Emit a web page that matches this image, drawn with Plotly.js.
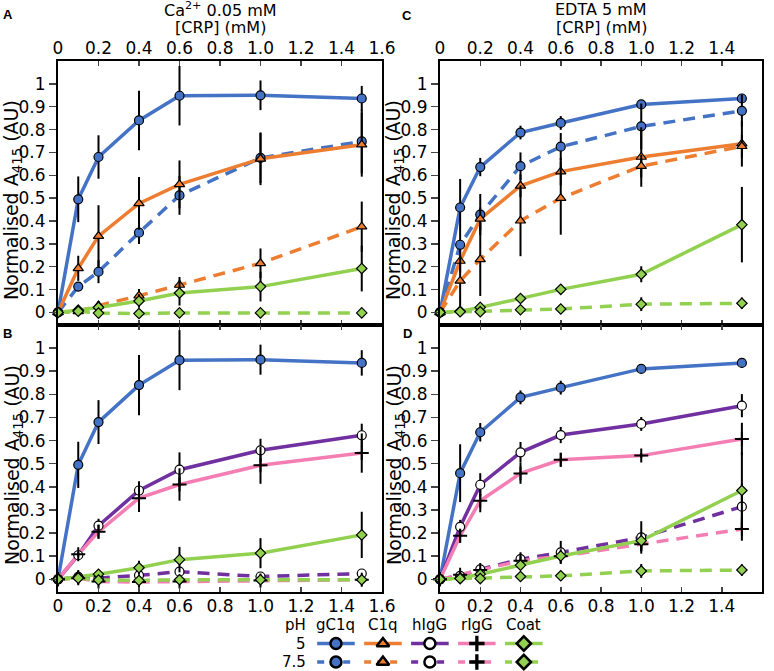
<!DOCTYPE html>
<html>
<head>
<meta charset="utf-8">
<script src="https://cdn.plot.ly/plotly-3.0.1.min.js"></script>
<style>
  body { margin: 0; background: #fff; }
  #chart { width: 774px; height: 671px; }
</style>
</head>
<body>
<div id="chart"></div>
<script>
// CRP concentrations (mM)
var crp = [0, 0.1, 0.2, 0.4, 0.6, 1.0, 1.5];
var xTicks = [0, 0.2, 0.4, 0.6, 0.8, 1.0, 1.2, 1.4, 1.6];
var xTickText = ["0", "0.2", "0.4", "0.6", "0.8", "1.0", "1.2", "1.4", "1.6"];
var yTicks = [0, 0.1, 0.2, 0.3, 0.4, 0.5, 0.6, 0.7, 0.8, 0.9, 1];
var yRightTicks = [0.05, 0.15, 0.25, 0.35, 0.45, 0.55, 0.65, 0.75, 0.85, 0.95, 1.05];

var series = ["gC1q", "C1q", "hIgG", "rIgG", "Coat"];
var phLevels = ["5", "7.5"];

// Ca2+ 0.05 mM (panels A, B)
var ca_gc1q5 = [0, 0.495, 0.68, 0.84, 0.948, 0.95, 0.936];
var ca_gc1q5_err = [0, 0.1, 0.095, 0.13, 0.13, 0.065, 0.055];
var ca_gc1q75 = [0, 0.113, 0.178, 0.349, 0.512, 0.676, 0.748];
var ca_gc1q75_err = [0, 0.02, 0.05, 0.05, 0.085, 0.11, 0.14];
var ca_c1q5 = [0, 0.193, 0.334, 0.477, 0.56, 0.672, 0.734];
var ca_c1q5_err = [0, 0.055, 0.135, 0.115, 0.105, 0.115, 0.14];
var ca_c1q75 = [0, 0.005, 0.03, 0.073, 0.12, 0.215, 0.375];
var ca_c1q75_err = [0, 0.01, 0.02, 0.03, 0.035, 0.065, 0.11];
var ca_higg5 = [0, 0.104, 0.232, 0.384, 0.474, 0.558, 0.623];
var ca_higg5_err = [0, 0.01, 0.03, 0.04, 0.075, 0.05, 0.05];
var ca_higg75 = [0, 0.01, 0.005, 0.017, 0.033, 0.012, 0.025];
var ca_higg75_err = [0, 0.03, 0.01, 0.01, 0.01, 0.01, 0.01];
var ca_rigg5 = [0, 0.108, 0.206, 0.351, 0.41, 0.493, 0.546];
var ca_rigg5_err = [0, 0.01, 0.03, 0.06, 0.07, 0.08, 0.085];
var ca_rigg75 = [0, 0.005, -0.01, -0.012, -0.01, -0.005, -0.002];
var ca_rigg75_err = [0, 0.01, 0.005, 0.005, 0.005, 0.005, 0.005];
var ca_coat5 = [0, 0.01, 0.022, 0.05, 0.085, 0.113, 0.192];
var ca_coat5_err = [0, 0.015, 0.02, 0.03, 0.055, 0.065, 0.1];
var ca_coat75 = [0, 0.005, -0.003, -0.005, -0.002, -0.002, -0.002];
var ca_coat75_err = [0, 0.005, 0.005, 0.005, 0.005, 0.005, 0.005];

// EDTA 5 mM (panels C, D)
var edta_gc1q5 = [0, 0.459, 0.636, 0.787, 0.829, 0.91, 0.936];
var edta_gc1q5_err = [0, 0.125, 0.04, 0.03, 0.03, 0.015, 0.02];
var edta_gc1q75 = [0, 0.296, 0.428, 0.64, 0.725, 0.814, 0.882];
var edta_gc1q75_err = [0, 0.04, 0.09, 0.06, 0.06, 0.1, 0.07];
var edta_c1q5 = [0, 0.225, 0.409, 0.554, 0.616, 0.68, 0.738];
var edta_c1q5_err = [0, 0.05, 0.05, 0.05, 0.06, 0.13, 0.1];
var edta_c1q75 = [0, 0.138, 0.232, 0.401, 0.5, 0.64, 0.727];
var edta_c1q75_err = [0, 0.11, 0.16, 0.155, 0.16, 0.05, 0.05];
var edta_higg5 = [0, 0.227, 0.409, 0.549, 0.624, 0.672, 0.751];
var edta_higg5_err = [0, 0.03, 0.05, 0.045, 0.035, 0.03, 0.05];
var edta_higg75 = [0, 0.015, 0.043, 0.087, 0.116, 0.181, 0.314];
var edta_higg75_err = [0, 0.01, 0.01, 0.03, 0.05, 0.07, 0.1];
var edta_rigg5 = [0, 0.188, 0.34, 0.458, 0.517, 0.535, 0.607];
var edta_rigg5_err = [0, 0.03, 0.05, 0.045, 0.03, 0.01, 0.07];
var edta_rigg75 = [0, 0.02, 0.04, 0.08, 0.1, 0.152, 0.217];
var edta_rigg75_err = [0, 0.01, 0.01, 0.02, 0.02, 0.03, 0.05];
var edta_coat5 = [0, 0.005, 0.022, 0.061, 0.101, 0.167, 0.384];
var edta_coat5_err = [0, 0.01, 0.01, 0.01, 0.02, 0.035, 0.165];
var edta_coat75 = [0, 0.003, 0.003, 0.012, 0.015, 0.036, 0.04];
var edta_coat75_err = [0, 0.005, 0.005, 0.005, 0.005, 0.03, 0.025];

// styles
var colors = ["#4472C4", "#ED7D31", "#7030A0", "#F47EB3", "#92D050"];
var symbols = ["circle", "triangle-up", "circle", "cross-thin", "diamond"];
var fills = ["#4472C4", "#ED7D31", "#ffffff", "#000000", "#92D050"];
var sizes = [9, 9, 9, 10, 8];
var font = "DejaVu Sans, Verdana, sans-serif";

// pixel -> paper helpers
var W = 774, H = 671;
var M = { l: 58, r: 12, t: 61, b: 4 };
function px(x) { return (x - M.l) / (W - M.l - M.r); }
function py(y) { return (H - M.b - y) / (H - M.t - M.b); }

var panels = [
  { xa: "x", ya: "y", curves: [
    [0, 0, ca_gc1q5, ca_gc1q5_err], [0, 1, ca_gc1q75, ca_gc1q75_err],
    [1, 0, ca_c1q5, ca_c1q5_err], [1, 1, ca_c1q75, ca_c1q75_err],
    [4, 0, ca_coat5, ca_coat5_err], [4, 1, ca_coat75, ca_coat75_err]] },
  { xa: "x2", ya: "y2", curves: [
    [0, 0, ca_gc1q5, ca_gc1q5_err],
    [2, 0, ca_higg5, ca_higg5_err], [2, 1, ca_higg75, ca_higg75_err],
    [3, 0, ca_rigg5, ca_rigg5_err], [3, 1, ca_rigg75, ca_rigg75_err],
    [4, 0, ca_coat5, ca_coat5_err], [4, 1, ca_coat75, ca_coat75_err]] },
  { xa: "x3", ya: "y3", curves: [
    [0, 0, edta_gc1q5, edta_gc1q5_err], [0, 1, edta_gc1q75, edta_gc1q75_err],
    [1, 0, edta_c1q5, edta_c1q5_err], [1, 1, edta_c1q75, edta_c1q75_err],
    [4, 0, edta_coat5, edta_coat5_err], [4, 1, edta_coat75, edta_coat75_err]] },
  { xa: "x4", ya: "y4", curves: [
    [0, 0, edta_gc1q5, edta_gc1q5_err],
    [2, 0, edta_higg5, edta_higg5_err], [2, 1, edta_higg75, edta_higg75_err],
    [3, 0, edta_rigg5, edta_rigg5_err], [3, 1, edta_rigg75, edta_rigg75_err],
    [4, 0, edta_coat5, edta_coat5_err], [4, 1, edta_coat75, edta_coat75_err]] }
];

function markerStyle(k, size, lw) {
  return {
    symbol: symbols[k], size: size, color: fills[k],
    line: { color: "black", width: symbols[k] == "cross-thin" ? lw + 0.8 : lw }
  };
}

var lineTraces = [], markTraces = [];
panels.forEach(function (p) {
  p.curves.forEach(function (c) {
    var k = c[0], ph = c[1];
    lineTraces.push({
      type: "scatter", mode: "lines", x: crp, y: c[2], xaxis: p.xa, yaxis: p.ya,
      line: { color: colors[k], width: 3.5, dash: ph == 0 ? "solid" : "12px,8px" },
      showlegend: false, hoverinfo: "skip"
    });
    markTraces.push({
      type: "scatter", mode: "markers", x: crp, y: c[2], xaxis: p.xa, yaxis: p.ya,
      marker: markerStyle(k, sizes[k], 1.2),
      error_y: { type: "data", array: c[3], visible: true, color: "black", thickness: 2, width: 0 },
      cliponaxis: false, showlegend: false, hoverinfo: "skip"
    });
  });
});

// key drawn on its own small axis pair
var keyTraces = [];
series.forEach(function (name, k) {
  phLevels.forEach(function (ph, j) {
    var row = 1 - j;
    keyTraces.push({
      type: "scatter", mode: "lines", x: [k - 0.4, k + 0.4], y: [row, row],
      xaxis: "x5", yaxis: "y9",
      line: { color: colors[k], width: 3.5, dash: j == 0 ? "solid" : "7px,6px" },
      showlegend: false, hoverinfo: "skip"
    });
    keyTraces.push({
      type: "scatter", mode: "markers", x: [k], y: [row], xaxis: "x5", yaxis: "y9",
      marker: markerStyle(k, 11, 2.5), cliponaxis: false, showlegend: false, hoverinfo: "skip"
    });
  });
});

var tickFont = { family: font, size: 17, color: "black" };
var yRange = [-0.055, 1.1];

function xax(domain, anchor, side) {
  return {
    domain: domain, anchor: anchor, side: side, range: [0, 1.6],
    tickvals: xTicks, ticktext: xTickText, ticks: "inside", ticklen: 5, tickwidth: 1.5,
    showline: true, linewidth: 2, linecolor: "black", mirror: "ticks",
    zeroline: false, showgrid: false, tickfont: tickFont, ticklabelstandoff: -2
  };
}
function yax(domain, anchor) {
  return {
    domain: domain, anchor: anchor, range: yRange, tickvals: yTicks,
    ticks: "outside", ticklen: 7, tickwidth: 1.5,
    showline: true, linewidth: 2, linecolor: "black", mirror: true,
    zeroline: false, showgrid: false, tickfont: tickFont
  };
}
function yright(over, anchor) {
  return {
    overlaying: over, anchor: anchor, side: "right", range: yRange, tickvals: yRightTicks,
    ticks: "outside", ticklen: 5, tickwidth: 1.5, showticklabels: false,
    showline: false, showgrid: false, zeroline: false
  };
}

var leftX = [px(58), px(382)], rightX = [px(440), px(762)];
var topY = [py(325), py(61)], botY = [py(592), py(325)];

function note(text, x, y, size, extra) {
  var a = {
    text: text, x: x, y: y, xref: "paper", yref: "paper", xanchor: "center", yanchor: "middle",
    showarrow: false, font: { family: font, size: size, color: "black" }
  };
  for (var key in extra || {}) a[key] = extra[key];
  return a;
}

var yTitle = "Normalised A<sub>415</sub> (AU)";
var annotations = [
  note("Ca<sup>2+</sup> 0.05 mM", px(220), py(9), 16),
  note("[CRP] (mM)", px(220), py(28), 16),
  note("EDTA 5 mM", px(601), py(9), 16),
  note("[CRP] (mM)", px(601), py(28), 16)
];
[[13, 200], [13, 465], [395, 200], [395, 465]].forEach(function (p) {
  annotations.push(note(yTitle, px(p[0]), py(p[1]), 19, { textangle: -90 }));
});
[["A", 8, 14], ["B", 8, 333], ["C", 407, 16], ["D", 407, 333]].forEach(function (p) {
  annotations.push(note("<b>" + p[0] + "</b>", px(p[1]), py(p[2]), 13,
    { font: { family: "Liberation Sans, Arial, sans-serif", size: 13, color: "black" } }));
});

// key text
var keyFont = { family: font, size: 15, color: "black" };
function keyNote(text, x, y, anchor) {
  return { text: text, x: x, y: y, xref: "x5", yref: "y9", xanchor: anchor, yanchor: "middle",
    showarrow: false, font: keyFont };
}
series.forEach(function (name, k) { annotations.push(keyNote(name, k, 2, "center")); });
annotations.push(keyNote("pH", -0.6, 2, "right"));
phLevels.forEach(function (ph, j) { annotations.push(keyNote(ph, -0.6, 1 - j, "right")); });

var layout = {
  width: W, height: H,
  margin: M,
  paper_bgcolor: "white", plot_bgcolor: "white",
  showlegend: false,
  font: { family: font, color: "black" },
  xaxis: xax(leftX, "y", "top"),
  yaxis: yax(topY, "x"),
  xaxis2: xax(leftX, "y2", "bottom"),
  yaxis2: yax(botY, "x2"),
  xaxis3: xax(rightX, "y3", "top"),
  yaxis3: yax(topY, "x3"),
  xaxis4: xax(rightX, "y4", "bottom"),
  yaxis4: yax(botY, "x4"),
  yaxis5: yright("y", "x"),
  yaxis6: yright("y2", "x2"),
  yaxis7: yright("y3", "x3"),
  yaxis8: yright("y4", "x4"),
  xaxis5: { domain: [px(289), px(552)], range: [-1, 4.6], anchor: "y9", visible: false },
  yaxis9: { domain: [py(667), py(616)], range: [-0.27, 2.486], anchor: "x5", visible: false },
  annotations: annotations
};

Plotly.newPlot("chart", lineTraces.concat(markTraces, keyTraces), layout, { staticPlot: true });
</script>
</body>
</html>
